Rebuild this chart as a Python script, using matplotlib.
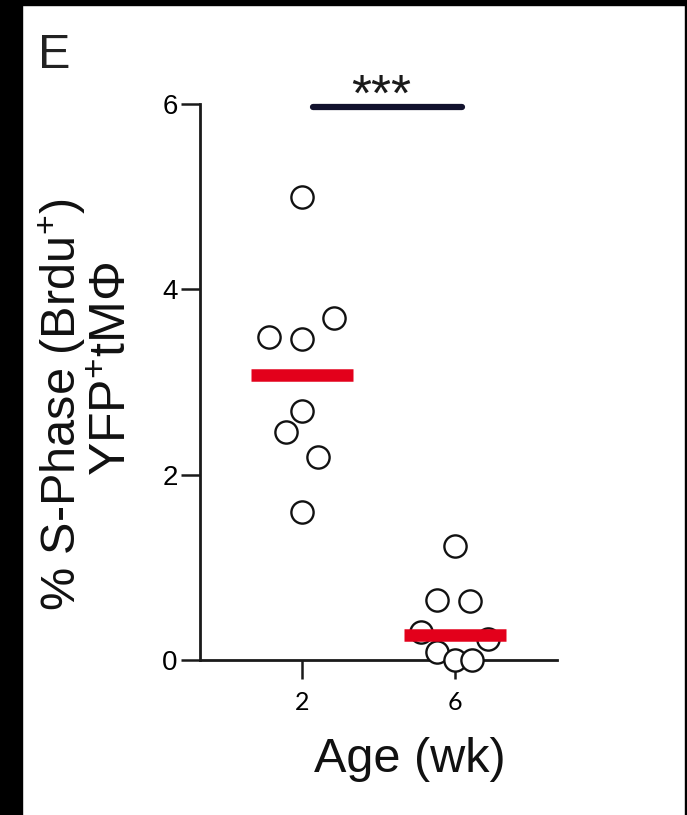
import numpy as np
import matplotlib
matplotlib.use("Agg")
import matplotlib.pyplot as plt
from matplotlib.patches import Rectangle

# data
ages = ['2', '6']
sphase_2wk = [5.00, 3.49, 3.46, 3.69, 2.69, 2.46, 2.19, 1.60]
sphase_6wk = [1.23, 0.65, 0.64, 0.30, 0.23, 0.09, 0.00, 0.00]
# swarm offsets of the points (layout only)
jitter_2wk = [0.0, -0.216, 0.0, 0.209, 0.0, -0.105, 0.105, 0.0]
jitter_6wk = [0.0, -0.118, 0.098, -0.222, 0.216, -0.118, 0.0, 0.111]
signif = '***'

plt.rcParams['font.family'] = ['Liberation Sans', 'DejaVu Sans']
plt.rcParams['mathtext.fontset'] = 'custom'
plt.rcParams['mathtext.rm'] = 'Liberation Sans'
plt.rcParams['mathtext.it'] = 'Liberation Sans:italic'

W, H = 687, 815
fig = plt.figure(figsize=(W / 100, H / 100), dpi=100)
fig.patch.set_facecolor('white')

# black scan border
for (x0, y0, w, h) in [(0, 0, 22, H), (0, H - 5, W, 5), (W - 2, 0, 2, H)]:
    fig.patches.append(Rectangle((x0 / W, y0 / H), w / W, h / H,
                                 transform=fig.transFigure, color='black', zorder=0))

ax = fig.add_axes([200 / W, 1 - 660 / H, 357 / W, 556 / H])
ax.set_xlim(-0.667, 1.667)
ax.set_ylim(0, 6)

groups = [sphase_2wk, sphase_6wk]
jitters = [jitter_2wk, jitter_6wk]
for i, (vals, jit) in enumerate(zip(groups, jitters)):
    xs = i + np.array(jit)
    ax.plot(xs, vals, 'o', ms=16, mfc='white', mec='#111111', mew=1.7,
            clip_on=False, zorder=3)
    med = np.median(vals)
    ax.plot([i - 0.333, i + 0.333], [med, med], color='#e3001b', lw=9,
            solid_capstyle='butt', zorder=4, clip_on=False)

# significance bar
ax.plot([0.072, 1.046], [5.97, 5.97], color='#12122e', lw=4.5,
        solid_capstyle='round', clip_on=False)
ax.text(0.516, 5.93, signif, ha='center', va='baseline', fontsize=37,
        color='#1a1a1a', clip_on=False)

ax.spines['top'].set_visible(False)
ax.spines['right'].set_visible(False)
for s in ['left', 'bottom']:
    ax.spines[s].set_linewidth(2.0)
    ax.spines[s].set_color('#1a1a1a')

ax.set_yticks([0, 2, 4, 6])
ax.set_yticklabels(['0', '2', '4', '6'], fontsize=20)
ax.set_xticks([0, 1])
ax.set_xticklabels(ages, fontsize=18, family=['Lato', 'DejaVu Sans'])
ax.tick_params(axis='y', direction='out', length=14, width=1.8, pad=2, color='#1a1a1a')
ax.tick_params(axis='x', direction='out', length=14, width=1.8, pad=8, color='#1a1a1a')

fig.text(38 / W, 1 - 68 / H, 'E', fontsize=35, ha='left', va='baseline', color='#222222')
fig.text(410 / W, 1 - 772 / H, 'Age (wk)', fontsize=35, ha='center', va='baseline',
         color='#111111')
fig.text(62 / W, 1 - 405 / H, r'% S-Phase (Brdu$^{+}$)', fontsize=35, rotation=90,
         ha='center', va='center', color='#111111')
fig.text(113 / W, 1 - 369 / H, r'YFP$^{+}$tMΦ', fontsize=36, rotation=90,
         ha='center', va='center', color='#111111')

fig.savefig('out.png', dpi=100)
